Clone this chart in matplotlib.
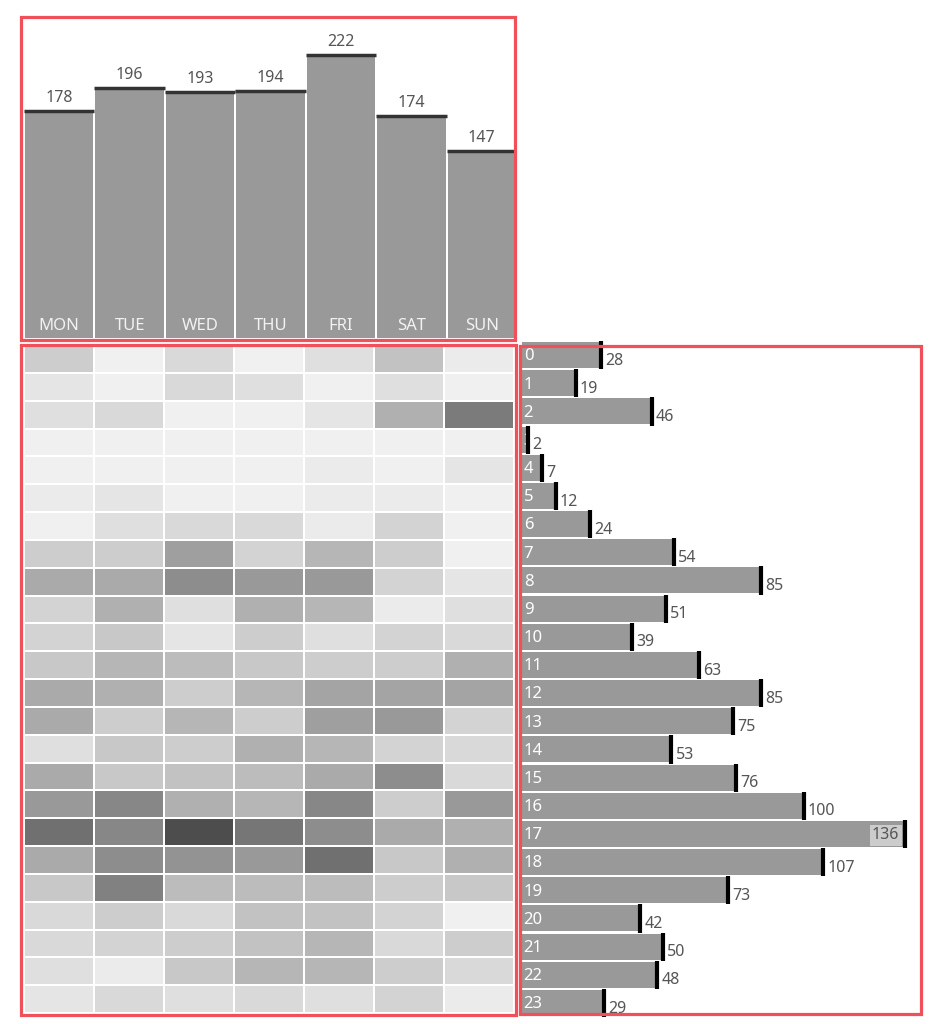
import numpy as np
import matplotlib
matplotlib.use("Agg")
import matplotlib.pyplot as plt
from matplotlib.colors import LinearSegmentedColormap
from matplotlib.patches import Rectangle

plt.rcParams['font.family'] = ['Noto Sans', 'DejaVu Sans']

# Data
days = ['MON', 'TUE', 'WED', 'THU', 'FRI', 'SAT', 'SUN']
day_totals = [178, 196, 193, 194, 222, 174, 147]
hours = [str(h) for h in range(24)]
hour_totals = [28, 19, 46, 2, 7, 12, 24, 54, 85, 51, 39, 63,
               85, 75, 53, 76, 100, 136, 107, 73, 42, 50, 48, 29]

# counts per hour (rows) and weekday (columns), estimated from the grey shades
counts = np.array([
    [7, 0, 5, 1, 4, 9, 2],
    [3, 1, 5, 4, 1, 4, 1],
    [4, 5, 1, 0, 3, 12, 21],
    [1, 0, 0, 0, 1, 0, 0],
    [0, 1, 0, 1, 2, 0, 3],
    [2, 3, 1, 1, 2, 2, 1],
    [1, 4, 5, 5, 2, 6, 1],
    [7, 7, 15, 6, 11, 7, 1],
    [13, 13, 18, 16, 16, 6, 3],
    [6, 12, 4, 12, 11, 2, 4],
    [6, 8, 3, 7, 4, 6, 5],
    [8, 11, 10, 8, 7, 7, 12],
    [13, 12, 7, 11, 14, 14, 14],
    [13, 7, 11, 7, 15, 16, 6],
    [4, 8, 7, 12, 11, 6, 5],
    [13, 8, 9, 10, 13, 18, 5],
    [16, 19, 12, 11, 19, 7, 16],
    [23, 19, 29, 22, 18, 13, 12],
    [13, 18, 17, 16, 23, 8, 12],
    [8, 20, 10, 10, 10, 7, 8],
    [5, 7, 5, 9, 9, 6, 1],
    [5, 6, 7, 9, 11, 5, 7],
    [4, 2, 8, 11, 11, 7, 5],
    [3, 5, 4, 5, 4, 6, 2],
])

W, H = 931, 1024
fig = plt.figure(figsize=(W / 100, H / 100), dpi=100)


def px_axes(x0, y0, x1, y1):
    # axes from pixel box (top-left origin)
    return fig.add_axes([x0 / W, 1 - y1 / H, (x1 - x0) / W, (y1 - y0) / H])


bar_grey = '#999999'
text_grey = '#555555'

# ---- top: totals per weekday
ax_top = px_axes(24, 17, 517, 338)
x = np.arange(len(days))
ax_top.bar(x, day_totals, width=0.97, color=bar_grey)
ax_top.hlines(day_totals, x - 0.5, x + 0.5, color='#333333', lw=2.5)
for xi, v, d in zip(x, day_totals, days):
    ax_top.text(xi, v + 4, str(v), ha='center', va='bottom', fontsize=11.5, color=text_grey)
    ax_top.text(xi, 9.5, d, ha='center', va='center', fontsize=12, color='#f2f2f2')
ax_top.set_xlim(-0.5, len(days) - 0.5)
ax_top.set_ylim(0, 252)
ax_top.axis('off')

# ---- heatmap hour x weekday
ax_hm = px_axes(24, 345, 514, 1013)
cmap = LinearSegmentedColormap.from_list('greys_tab', ['#f0f0f0', '#4a4a4a'])
ax_hm.pcolormesh(counts, cmap=cmap, vmin=1, vmax=29.5,
                 edgecolors='white', linewidth=1.3)
ax_hm.set_xlim(0, len(days))
ax_hm.set_ylim(len(hours), 0)
ax_hm.axis('off')

# ---- right: totals per hour
ax_hr = px_axes(522, 341, 921, 1017)
y = np.arange(len(hours))
ax_hr.barh(y, hour_totals, height=0.92, color=bar_grey)
ax_hr.vlines(hour_totals, y - 0.5, y + 0.5, color='black', lw=3, zorder=5)
top_hour = int(np.argmax(hour_totals))
for yi, v, h in zip(y, hour_totals, hours):
    ax_hr.text(0.6, yi + 0.05, h, ha='left', va='center', fontsize=12, color='white')
    if yi == top_hour:
        ax_hr.text(v - 2, yi + 0.05, str(v), ha='right', va='center', fontsize=11.5,
                   color=text_grey,
                   bbox=dict(boxstyle='square,pad=0.15', fc='#cccccc', ec='none'))
    else:
        ax_hr.text(v + 1.5, yi + 0.2, str(v), ha='left', va='center', fontsize=11.5,
                   color=text_grey)
ax_hr.set_xlim(0, 141.7)
ax_hr.set_ylim(len(hours) - 0.5, -0.5)
ax_hr.axis('off')

# ---- red selection frames
ax_ov = fig.add_axes([0, 0, 1, 1])
ax_ov.set_xlim(0, W)
ax_ov.set_ylim(H, 0)
ax_ov.axis('off')
red = '#f0505a'
for (x0, y0, x1, y1) in [(21, 17, 515, 340), (21, 345, 516, 1015), (520, 346, 921, 1014)]:
    ax_ov.add_patch(Rectangle((x0, y0), x1 - x0, y1 - y0, fill=False, ec=red, lw=2.3))

fig.savefig('out.png', dpi=100)
